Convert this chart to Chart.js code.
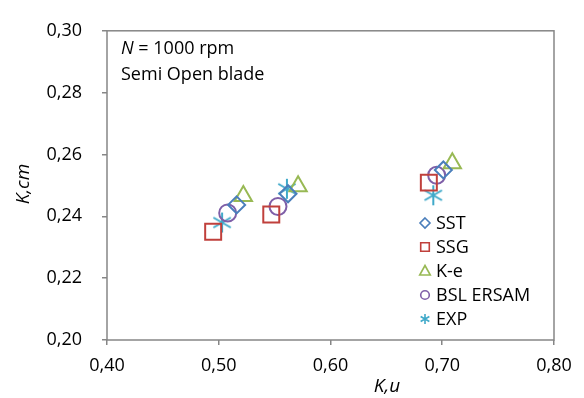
<!DOCTYPE html>
<html>
<head>
<meta charset="utf-8">
<script src="https://cdn.jsdelivr.net/npm/chart.js@4.4.0/dist/chart.umd.min.js"></script>
<style>
    html, body { margin: 0; padding: 0; background: #fff; }
</style>
</head>
<body>
<canvas id="graphique" width="584" height="398"></canvas>
<script>
// series names
let noms = ["SST", "SSG", "K-e", "BSL ERSAM", "EXP"];

// values (K,u ; K,cm)
let sstX = [0.516, 0.562, 0.701];
let sstY = [0.2437, 0.2473, 0.2550];
let ssgX = [0.495, 0.547, 0.688];
let ssgY = [0.2350, 0.2406, 0.2509];
let keX = [0.522, 0.571, 0.709];
let keY = [0.2466, 0.2497, 0.2572];
let bslX = [0.508, 0.553, 0.695];
let bslY = [0.2411, 0.2432, 0.2533];
let expX = [0.503, 0.561, 0.692];
let expY = [0.2380, 0.2489, 0.2468];

let xTicks = [0.40, 0.50, 0.60, 0.70, 0.80];
let yTicks = [0.20, 0.22, 0.24, 0.26, 0.28, 0.30];

let titreX = "K,u";
let titreY = "K,cm";
let note1a = "N";
let note1b = " = 1000 rpm";
let note2 = "Semi Open blade";

let couleurs = ["#4a7ebb", "#c0403c", "#98b954", "#7f5fa8", "#3fa9c9"];
let police = '"Open Sans", "DejaVu Sans", sans-serif';

function points(xs, ys) {
    let pts = [];
    for (let i = 0; i < xs.length; i++) {
        pts.push({ x: xs[i], y: ys[i] });
    }
    return pts;
}

function virgule(v) {
    return v.toFixed(2).replace(".", ",");
}

// asterisk marker (vertical line + X) like the excel one
function etoile(taille, couleur, epaisseur) {
    let c = document.createElement("canvas");
    c.width = taille;
    c.height = taille;
    let g = c.getContext("2d");
    let m = taille / 2;
    let r = m - 1;
    g.strokeStyle = couleur;
    g.lineWidth = epaisseur;
    g.beginPath();
    g.moveTo(m, m - r); g.lineTo(m, m + r);
    g.moveTo(m - r * 0.87, m - r * 0.5); g.lineTo(m + r * 0.87, m + r * 0.5);
    g.moveTo(m - r * 0.87, m + r * 0.5); g.lineTo(m + r * 0.87, m - r * 0.5);
    g.stroke();
    return c;
}

let etoileGrande = etoile(22, couleurs[4], 2);
let etoilePetite = etoile(12, couleurs[4], 1.6);

// small marker for the legend
function petitSymbole(ctx, i, x, y) {
    ctx.save();
    ctx.strokeStyle = couleurs[i];
    ctx.lineWidth = 1.6;
    ctx.beginPath();
    if (i == 0) {
        ctx.moveTo(x, y - 5); ctx.lineTo(x + 5, y); ctx.lineTo(x, y + 5); ctx.lineTo(x - 5, y); ctx.closePath();
    } else if (i == 1) {
        ctx.rect(x - 4.3, y - 4.3, 8.6, 8.6);
    } else if (i == 2) {
        ctx.moveTo(x, y - 5.5); ctx.lineTo(x + 5.3, y + 4); ctx.lineTo(x - 5.3, y + 4); ctx.closePath();
    } else if (i == 3) {
        ctx.arc(x, y, 4.3, 0, Math.PI * 2);
    }
    ctx.stroke();
    if (i == 4) {
        ctx.drawImage(etoilePetite, x - 6, y - 6);
    }
    ctx.restore();
}

let decor = {
    id: "decor",
    afterDraw: function (chart) {
        let ctx = chart.ctx;
        let a = chart.chartArea;
        ctx.save();
        // plot area box
        ctx.strokeStyle = "#868686";
        ctx.lineWidth = 1.5;
        ctx.strokeRect(a.left, a.top, a.right - a.left, a.bottom - a.top);

        // text in the corner
        ctx.fillStyle = "#000";
        ctx.textBaseline = "alphabetic";
        ctx.textAlign = "left";
        ctx.font = "italic 18px " + police;
        ctx.fillText(note1a, 121, 54);
        let w = ctx.measureText(note1a).width;
        ctx.font = "18px " + police;
        ctx.fillText(note1b, 121 + w, 54);
        ctx.fillText(note2, 121, 80);

        // axis titles
        ctx.font = "italic 19px " + police;
        ctx.textAlign = "center";
        ctx.textBaseline = "middle";
        ctx.fillText(titreX, 387, 387);
        ctx.save();
        ctx.translate(24, 184);
        ctx.rotate(-Math.PI / 2);
        ctx.fillText(titreY, 0, 0);
        ctx.restore();

        // legend inside the plot
        ctx.font = "18px " + police;
        ctx.textAlign = "left";
        for (let i = 0; i < noms.length; i++) {
            let yy = 223 + i * 24;
            petitSymbole(ctx, i, 425, yy);
            ctx.fillText(noms[i], 436, yy + 1);
        }
        ctx.restore();
    }
};

let transparent = "rgba(0,0,0,0)";

let ctx = document.getElementById("graphique").getContext("2d");
let chart = new Chart(ctx, {
    type: "scatter",
    data: {
        datasets: [
            { label: noms[0], data: points(sstX, sstY), pointStyle: "rectRot", pointRadius: 8.5, borderColor: couleurs[0], backgroundColor: transparent, pointBorderWidth: 2 },
            { label: noms[1], data: points(ssgX, ssgY), pointStyle: "rect", pointRadius: 11.3, borderColor: couleurs[1], backgroundColor: transparent, pointBorderWidth: 2 },
            { label: noms[2], data: points(keX, keY), pointStyle: "triangle", pointRadius: 10, borderColor: couleurs[2], backgroundColor: transparent, pointBorderWidth: 2 },
            { label: noms[3], data: points(bslX, bslY), pointStyle: "circle", pointRadius: 8.5, borderColor: couleurs[3], backgroundColor: transparent, pointBorderWidth: 2 },
            { label: noms[4], data: points(expX, expY), pointStyle: etoileGrande, pointRadius: 10, borderColor: couleurs[4], backgroundColor: transparent, pointBorderWidth: 2 }
        ]
    },
    options: {
        responsive: false,
        animation: false,
        layout: { padding: { top: 16, right: 30, left: 0, bottom: 0 } },
        plugins: {
            legend: { display: false },
            tooltip: { enabled: false }
        },
        scales: {
            x: {
                type: "linear",
                min: 0.40,
                max: 0.80,
                afterBuildTicks: function (scale) {
                    scale.ticks = xTicks.map(function (v) { return { value: v }; });
                },
                afterFit: function (scale) { scale.height = 58; },
                ticks: {
                    padding: 10,
                    color: "#000",
                    font: { family: police, size: 18 },
                    callback: function (v) { return virgule(v); }
                },
                grid: { drawOnChartArea: false, drawTicks: true, tickLength: 5, color: "#868686", lineWidth: 1.5 },
                border: { display: false }
            },
            y: {
                type: "linear",
                min: 0.20,
                max: 0.30,
                afterBuildTicks: function (scale) {
                    scale.ticks = yTicks.map(function (v) { return { value: v }; });
                },
                afterFit: function (scale) { scale.width = 107; },
                ticks: {
                    padding: 20,
                    color: "#000",
                    font: { family: police, size: 18 },
                    callback: function (v) { return virgule(v); }
                },
                grid: { drawOnChartArea: false, drawTicks: true, tickLength: 5, color: "#868686", lineWidth: 1.5 },
                border: { display: false }
            }
        }
    },
    plugins: [decor]
});
</script>
</body>
</html>
